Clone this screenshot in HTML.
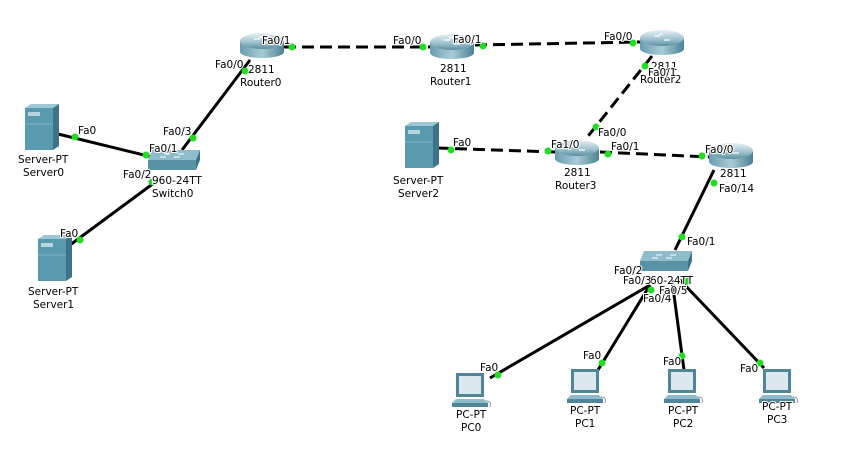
<!DOCTYPE html><html><head><style>body{margin:0;background:#fff}svg text{font-family:"DejaVu Sans","Liberation Sans",sans-serif;font-size:10.5px;fill:#000}.lb text{paint-order:stroke;stroke:#fff;stroke-width:2px}</style></head><body>
<svg width="857" height="445" xmlns="http://www.w3.org/2000/svg">
<defs>
<linearGradient id="rg" x1="0" y1="0" x2="0" y2="1"><stop offset="0" stop-color="#e8f1f4"/><stop offset="0.6" stop-color="#9cc0cd"/><stop offset="1" stop-color="#5a8fa0"/></linearGradient>
<linearGradient id="rs" x1="0" y1="0" x2="1" y2="0"><stop offset="0" stop-color="#6a9db0"/><stop offset="0.5" stop-color="#a9cbd6"/><stop offset="1" stop-color="#4b8295"/></linearGradient>
<g id="router"><rect x="-22" y="-4" width="44" height="11" fill="url(#rs)"/><ellipse cx="0" cy="7" rx="22" ry="6" fill="url(#rs)"/><ellipse cx="0" cy="-4" rx="22" ry="8" fill="url(#rg)"/><path d="M-8,-6 l6,0 M2,-2 l6,0 M-3,-8 l4,0" stroke="#fff" stroke-width="1.2"/></g>
<g id="switch"><polygon points="-22,-10 26,-10 22,0 -26,0" fill="#8fbccb"/><rect x="-26" y="0" width="48" height="10" fill="#5a93a5"/><polygon points="22,0 26,-10 26,0 22,10" fill="#3d7386"/><path d="M-10,-6 h6 M4,-6 h6 M-14,-3 h6 M0,-3 h6" stroke="#fff" stroke-width="1"/></g>
<g id="server"><rect x="0" y="4" width="28" height="42" fill="#5a9aae"/><polygon points="0,4 6,0 34,0 28,4" fill="#9cc7d4"/><polygon points="28,4 34,0 34,42 28,46" fill="#3d7386"/><rect x="3" y="8" width="12" height="4" fill="#b5d5df"/><line x1="0" y1="20" x2="28" y2="20" stroke="#7fb3c2"/></g>
<g id="pc"><rect x="6" y="0" width="28" height="24" fill="#4f8799"/><rect x="9" y="3" width="22" height="18" fill="#dbe9ee"/><polygon points="2,30 38,30 34,26 6,26" fill="#8fbccb"/><rect x="2" y="30" width="36" height="4" fill="#4f8799"/><path d="M36,28 q6,0 4,6" stroke="#999" fill="none"/></g>
</defs>
<g stroke="#000" stroke-width="3" fill="none">
<line x1="58" y1="134" x2="152" y2="157"/>
<line x1="70" y1="245" x2="158" y2="180"/>
<line x1="182" y1="150" x2="250" y2="60"/>
<line x1="714" y1="170" x2="675" y2="250"/>
<line x1="650" y1="285" x2="490" y2="378"/>
<line x1="650" y1="285" x2="598" y2="370"/>
<line x1="672" y1="280" x2="684" y2="370"/>
<line x1="680" y1="280" x2="764" y2="368"/>
</g>
<g stroke="#000" stroke-width="3" fill="none" stroke-dasharray="12,6">
<line x1="284" y1="47" x2="430" y2="47"/>
<line x1="475" y1="45" x2="640" y2="42"/>
<line x1="652" y1="56" x2="585" y2="140"/>
<line x1="437" y1="148" x2="555" y2="152"/>
<line x1="600" y1="152" x2="710" y2="157"/>
</g>
<use href="#router" x="262" y="45"/>
<use href="#router" x="452" y="46"/>
<use href="#router" x="662" y="42"/>
<use href="#router" x="577" y="152"/>
<use href="#router" x="731" y="155"/>
<use href="#switch" x="174" y="160"/>
<use href="#switch" x="666" y="261"/>
<use href="#server" x="25" y="104"/>
<use href="#server" x="38" y="235"/>
<use href="#server" x="405" y="122"/>
<use href="#pc" x="450" y="373"/>
<use href="#pc" x="565" y="369"/>
<use href="#pc" x="662" y="369"/>
<use href="#pc" x="757" y="369"/>
<g fill="#22dd22">
<circle cx="75" cy="137" r="3.5"/><circle cx="146" cy="155" r="3.5"/><circle cx="152" cy="182" r="3.5"/><circle cx="80" cy="240" r="3.5"/><circle cx="193" cy="138" r="3.5"/><circle cx="245" cy="71" r="3.5"/><circle cx="292" cy="47" r="3.5"/><circle cx="423" cy="47" r="3.5"/><circle cx="483" cy="46" r="3.5"/><circle cx="633" cy="43" r="3.5"/><circle cx="645" cy="66" r="3.5"/><circle cx="596" cy="127" r="3.5"/><circle cx="451" cy="150" r="3.5"/><circle cx="548" cy="151" r="3.5"/><circle cx="608" cy="154" r="3.5"/><circle cx="702" cy="156" r="3.5"/><circle cx="714" cy="183" r="3.5"/><circle cx="682" cy="237" r="3.5"/><circle cx="651" cy="290" r="3.5"/><circle cx="688" cy="281" r="3.5"/><circle cx="498" cy="375" r="3.5"/><circle cx="602" cy="363" r="3.5"/><circle cx="682" cy="356" r="3.5"/><circle cx="760" cy="363" r="3.5"/>
</g>
<g class="lb">
<text x="78" y="134">Fa0</text><text x="149" y="152">Fa0/1</text><text x="163" y="135">Fa0/3</text><text x="123" y="178">Fa0/2</text><text x="152" y="184">960-24TT</text><text x="152" y="197">Switch0</text>
<text x="18" y="163">Server-PT</text><text x="23" y="176">Server0</text>
<text x="60" y="237">Fa0</text><text x="28" y="295">Server-PT</text><text x="33" y="308">Server1</text>
<text x="262" y="44">Fa0/1</text><text x="215" y="68">Fa0/0</text><text x="248" y="73">2811</text><text x="240" y="86">Router0</text>
<text x="393" y="44">Fa0/0</text><text x="453" y="43">Fa0/1</text><text x="440" y="72">2811</text><text x="430" y="85">Router1</text>
<text x="604" y="40">Fa0/0</text><text x="651" y="70">2811</text><text x="640" y="83">Router2</text><text x="648" y="76">Fa0/1</text>
<text x="453" y="146">Fa0</text><text x="393" y="184">Server-PT</text><text x="398" y="197">Server2</text>
<text x="598" y="136">Fa0/0</text><text x="551" y="148">Fa1/0</text><text x="611" y="150">Fa0/1</text><text x="564" y="176">2811</text><text x="555" y="189">Router3</text>
<text x="705" y="153">Fa0/0</text><text x="720" y="177">2811</text><text x="719" y="192">Fa0/14</text>
<text x="687" y="245">Fa0/1</text><text x="614" y="274">Fa0/2</text><text x="650" y="284">60-24TT</text><text x="623" y="284">Fa0/3</text><text x="643" y="302">Fa0/4</text><text x="659" y="294">Fa0/5</text>
<text x="480" y="371">Fa0</text><text x="583" y="359">Fa0</text><text x="663" y="365">Fa0</text><text x="740" y="372">Fa0</text>
<text x="456" y="418">PC-PT</text><text x="461" y="431">PC0</text>
<text x="570" y="414">PC-PT</text><text x="575" y="427">PC1</text>
<text x="668" y="414">PC-PT</text><text x="673" y="427">PC2</text>
<text x="762" y="410">PC-PT</text><text x="767" y="423">PC3</text>
</g>
</svg></body></html>
